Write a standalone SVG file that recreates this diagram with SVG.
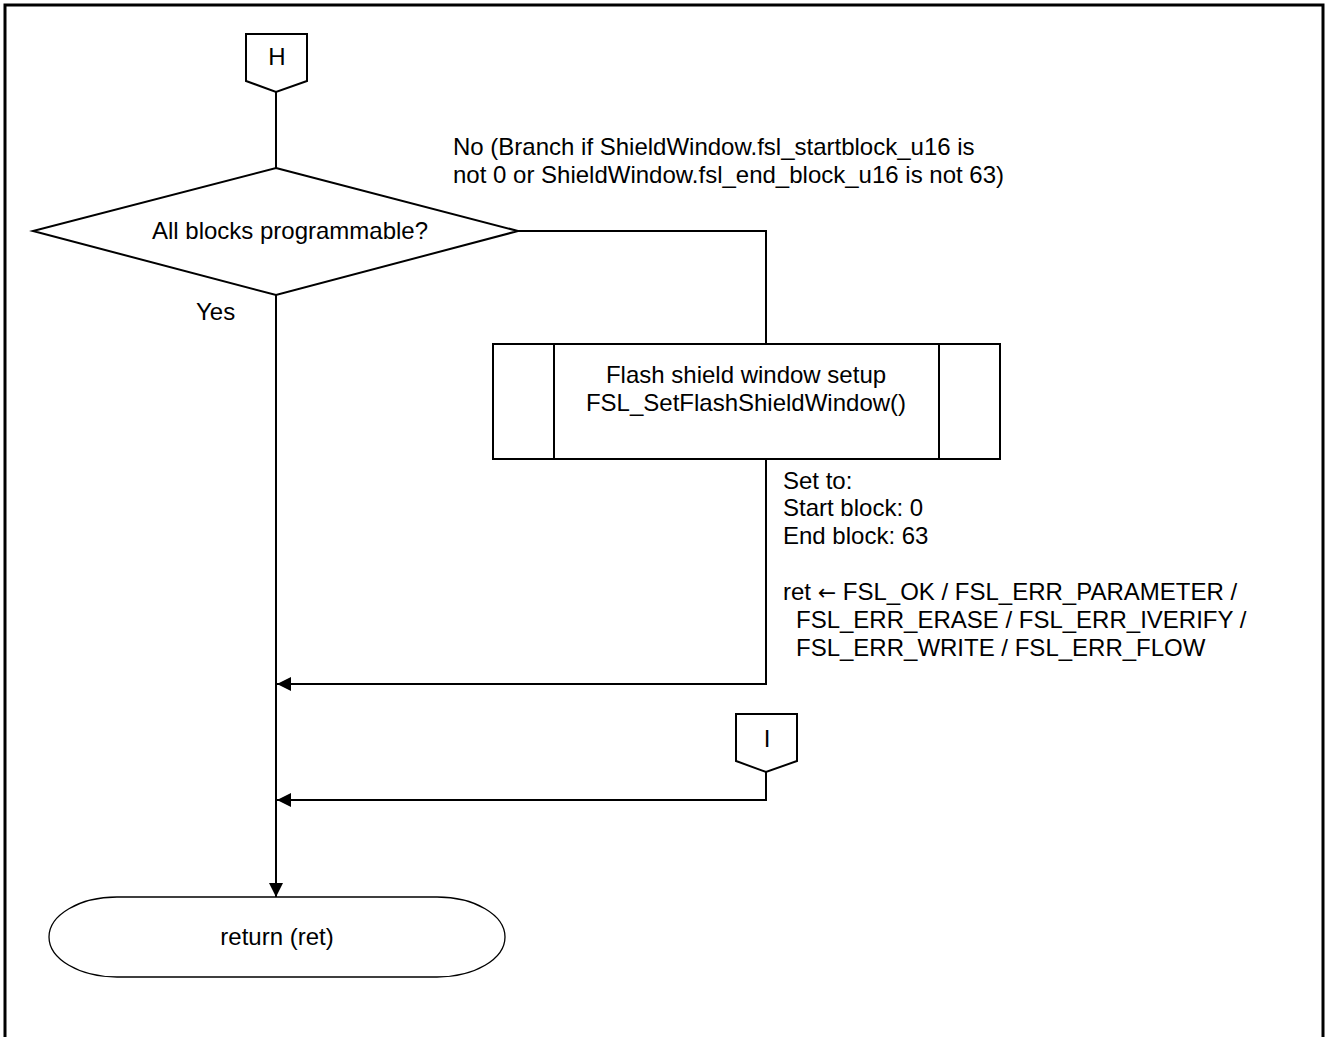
<svg xmlns="http://www.w3.org/2000/svg" width="1325" height="1037" viewBox="0 0 1325 1037">
<style>
text{font-family:"Liberation Sans",Arial,sans-serif;font-size:24px;fill:#000}
.s{fill:#fff;stroke:#000;stroke-width:2}
.t{fill:#fff;stroke:#000;stroke-width:1.3}
.c{fill:none;stroke:#000;stroke-width:2}
.m{text-anchor:middle}
.ar{font-family:"DejaVu Sans",sans-serif;font-size:22px}
</style>
<defs>
<marker id="a" markerUnits="userSpaceOnUse" markerWidth="16" markerHeight="14" refX="14" refY="7" orient="auto">
<path d="M0,0 L14,7 L0,14 Z" fill="#000"/>
</marker>
</defs>
<rect x="0" y="0" width="1325" height="1037" fill="#fff"/>
<path d="M5,1040 V5 H1323 V1040" fill="none" stroke="#000" stroke-width="3"/>
<g id="connectors">
<path class="c" d="M276,92 V168"/>
<path class="c" d="M518,231 H766 V344"/>
<path class="c" d="M766,459 V684 H277" marker-end="url(#a)"/>
<path class="c" d="M766,772 V800 H277" marker-end="url(#a)"/>
<path class="c" d="M276,295 V897" marker-end="url(#a)"/>
</g>
<g id="H">
<path class="s" d="M246,34 H307 V81 L276,92 L246,81 Z"/>
<text class="m" x="277" y="65">H</text>
</g>
<g id="decision">
<path class="s" d="M276,168 L518,231 L276,295 L33,231 Z"/>
<text class="m" x="290" y="239">All blocks programmable?</text>
</g>
<g id="labelYes"><text x="196" y="320">Yes</text></g>
<g id="labelNo">
<text x="453" y="155">No (Branch if ShieldWindow.fsl_startblock_u16 is</text>
<text x="453" y="183">not 0 or ShieldWindow.fsl_end_block_u16 is not 63)</text>
</g>
<g id="process">
<rect class="s" x="493" y="344" width="507" height="115"/>
<path class="c" d="M554,344 V459 M939,344 V459"/>
<text class="m" x="746" y="383">Flash shield window setup</text>
<text class="m" x="746" y="411">FSL_SetFlashShieldWindow()</text>
</g>
<g id="note">
<text x="783" y="489">Set to:</text>
<text x="783" y="516">Start block: 0</text>
<text x="783" y="544">End block: 63</text>
<text x="783" y="600">ret <tspan class="ar">←</tspan> FSL_OK / FSL_ERR_PARAMETER /</text>
<text x="796" y="628">FSL_ERR_ERASE / FSL_ERR_IVERIFY /</text>
<text x="796" y="656">FSL_ERR_WRITE / FSL_ERR_FLOW</text>
</g>
<g id="I">
<path class="s" d="M736,714 H797 V761 L766,772 L736,761 Z"/>
<text class="m" x="767" y="747">I</text>
</g>
<g id="terminal">
<rect class="t" x="49" y="897" width="456" height="80" rx="68" ry="40"/>
<text class="m" x="277" y="945">return (ret)</text>
</g>
</svg>
